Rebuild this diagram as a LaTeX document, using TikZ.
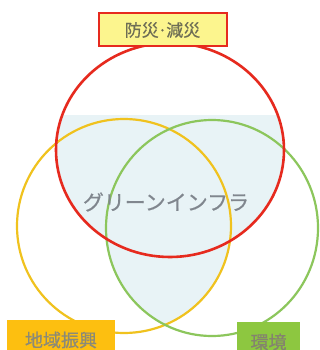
\documentclass[tikz,border=0pt]{standalone}
\usepackage{fontspec}
\newfontfamily\jp[FakeBold=0.6,AutoFakeBold=0.6]{Noto Sans CJK JP}
\definecolor{cred}{HTML}{E62A1E}
\definecolor{cyel}{HTML}{F0C21E}
\definecolor{cgrn}{HTML}{8CC65C}
\definecolor{cblue}{HTML}{E8F3F6}
\definecolor{boxyel}{HTML}{FCF58E}
\definecolor{boxorg}{HTML}{FDBF10}
\definecolor{boxgrn}{HTML}{8DC740}
\definecolor{txtgray}{HTML}{6E6D55}
\definecolor{midgray}{HTML}{80868E}
\tikzset{
  ring/.style={line width=2.2pt},
  label box/.style={inner sep=0pt, font=\jp\fontsize{18}{18}\selectfont},
}
\begin{document}
\begin{tikzpicture}[x=1pt,y=-1pt]
\useasboundingbox (0,0) rectangle (320,350);
\fill[white] (0,0) rectangle (320,350);
% light blue overlap region
\begin{scope}
  \clip (0,115) rectangle (320,350);
  \fill[cblue] (170,150) ellipse [x radius=114pt, y radius=107pt];
\end{scope}
\begin{scope}
  \clip (124,226) circle [radius=107pt];
  \fill[cblue] (212,228) ellipse [x radius=106pt, y radius=108pt];
\end{scope}
% circles
\draw[ring, cyel] (124,226) circle [radius=107pt];
\draw[ring, cgrn] (212,228) ellipse [x radius=106pt, y radius=108pt];
\draw[ring, cred, line width=2.6pt] (170,150) ellipse [x radius=114pt, y radius=107pt];
% center text
\node[font=\jp\fontsize{21}{21}\selectfont, text=midgray] (center) at (166,202) {グリーンインフラ};
% label boxes
\node[label box, draw=cred, line width=2pt, fill=boxyel, text=txtgray,
      font=\jp\fontsize{17}{17}\selectfont,
      minimum width=128pt, minimum height=33pt] (bousai) at (162.5,30) {防災\kern-1pt·\kern-1pt減災};
\node[label box, fill=boxorg, text=txtgray!80, minimum width=108pt, minimum height=40pt]
      (chiiki) at (61,340) {地域振興};
\node[label box, fill=boxgrn, text=txtgray!85, minimum width=63pt, minimum height=40pt]
      (kankyo) at (268.5,342) {環境};
\end{tikzpicture}
\end{document}
